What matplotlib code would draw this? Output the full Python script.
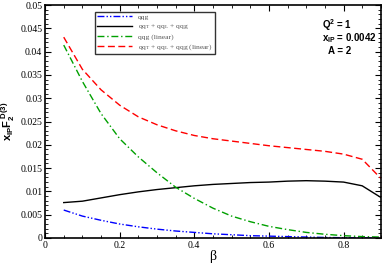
import matplotlib
matplotlib.use("Agg")
import matplotlib.pyplot as plt
from matplotlib.ticker import MultipleLocator, FixedLocator

plt.rcParams['mathtext.fontset'] = 'custom'
plt.rcParams['mathtext.rm'] = 'Liberation Serif'
plt.rcParams['mathtext.it'] = 'Liberation Serif:italic'
plt.rcParams['mathtext.bf'] = 'Liberation Sans:bold'
plt.rcParams['font.family'] = 'Liberation Serif'

beta = [0.05, 0.1, 0.15, 0.2, 0.25, 0.3, 0.35, 0.4, 0.45, 0.5, 0.55, 0.6,
        0.65, 0.7, 0.75, 0.8, 0.85, 0.9]
qqg = [0.0060, 0.0047, 0.0038, 0.0030, 0.0024, 0.0019, 0.0015, 0.0012, 0.0009,
       0.0007, 0.0005, 0.0004, 0.0003, 0.0002, 0.00012, 0.00006, 0.00003, 0.0]
total = [0.0076, 0.0079, 0.0086, 0.0093, 0.0099, 0.0104, 0.0108, 0.0112, 0.0115,
         0.0117, 0.0119, 0.0120, 0.0122, 0.0123, 0.0122, 0.0120, 0.0112, 0.0087]
qqg_lin = [0.0414, 0.0336, 0.0267, 0.0213, 0.0174, 0.0140, 0.0109, 0.0085, 0.0064,
           0.0047, 0.0035, 0.0025, 0.0018, 0.0012, 0.0008, 0.0005, 0.0003, 0.0002]
total_lin = [0.0431, 0.0362, 0.0318, 0.0285, 0.0260, 0.0243, 0.0230, 0.0220, 0.0213,
             0.0208, 0.0203, 0.0198, 0.0194, 0.0190, 0.0186, 0.0180, 0.0169, 0.0128]

labels = ['qqg',
          r'qq$_\mathrm{T}$ + qq$_\mathrm{L}$ + qqg',
          'qqg (linear)',
          r'qq$_\mathrm{T}$ + qq$_\mathrm{L}$ + qqg (linear)']
ytick_labels = ['0', '0.005', '0.01', '0.015', '0.02', '0.025', '0.03',
                '0.035', '0.04', '0.045', '0.05']
xtick_labels = ['0', '0.2', '0.4', '0.6', '0.8']

fig = plt.figure(figsize=(3.82, 2.64), dpi=100)
ax = fig.add_axes([0.118, 0.0985, 0.879, 0.8825])

ax.plot(beta, qqg, color='#0000ff', lw=1.0, ls=(0, (5, 1.5, 1, 1.5, 1, 1.5)), label=labels[0])
ax.plot(beta, total, color='black', lw=1.0, ls='-', label=labels[1])
ax.plot(beta, qqg_lin, color='#00a000', lw=1.0, ls=(0, (5, 2, 1, 2)), label=labels[2])
ax.plot(beta, total_lin, color='#ff0000', lw=1.0, ls=(0, (5, 2.5)), label=labels[3])

ax.set_xlim(0, 0.9)
ax.set_ylim(0, 0.05)
ax.set_xticks([0, 0.2, 0.4, 0.6, 0.8])
ax.set_xticklabels(xtick_labels)
ax.xaxis.set_minor_locator(MultipleLocator(0.05))
ax.set_yticks([i * 0.005 for i in range(11)])
ax.set_yticklabels(ytick_labels)
ax.yaxis.set_minor_locator(MultipleLocator(0.001))
ax.tick_params(which='both', direction='in', top=True, right=True, labelsize=7, pad=2)
ax.tick_params(which='major', length=4, width=0.8)
ax.tick_params(which='minor', length=2, width=0.6)
for s in ax.spines.values():
    s.set_linewidth(1.2)

ax.set_xlabel(r'β', fontsize=10, labelpad=0)
ax.set_ylabel(r'$\mathbf{x_{IP}F_2^{\ D(3)}}$', fontsize=8, labelpad=2)

leg = ax.legend(loc='upper left', bbox_to_anchor=(0.149, 0.972), fontsize=5.4,
                frameon=True, fancybox=False, edgecolor='black', handlelength=4.6,
                handletextpad=0.8, borderpad=0.3, labelspacing=0.3,
                borderaxespad=0)
leg.get_frame().set_linewidth(1.0)
for t in leg.get_texts():
    t.set_color('#555555')

ax.text(0.824, 0.915, r'$\mathbf{Q^2}$ = 1', transform=ax.transAxes, fontsize=7,
        fontweight='bold', family='Liberation Sans', ha='left', va='center')
ax.text(0.824, 0.858, r'$\mathbf{x_{IP}}$ = 0.0042', transform=ax.transAxes, fontsize=7,
        fontweight='bold', family='Liberation Sans', ha='left', va='center')
ax.text(0.842, 0.803, 'A = 2', transform=ax.transAxes, fontsize=7,
        fontweight='bold', family='Liberation Sans', ha='left', va='center')

fig.savefig('out.png', dpi=100)
